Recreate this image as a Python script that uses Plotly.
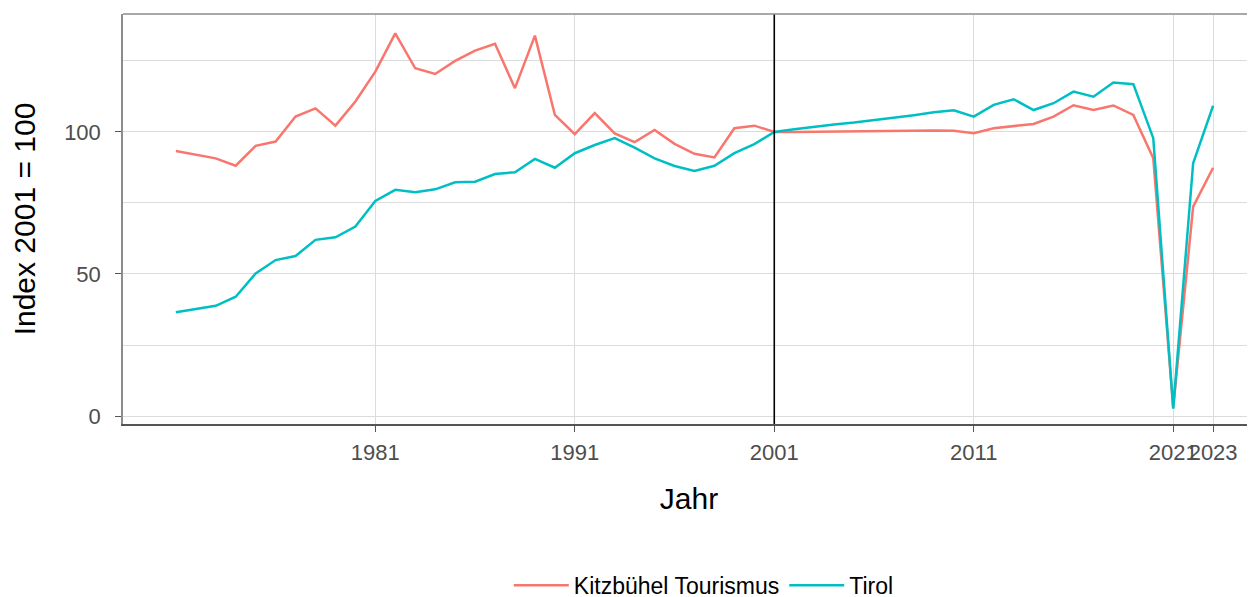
import plotly.graph_objects as go

years = list(range(1971, 2024))

kitzbuehel = [93.3, 92.1, 90.7, 88.1, 95.1, 96.6, 105.4, 108.3, 102.2, 110.7,
              121.2, 134.7, 122.4, 120.4, 125.0, 128.6, 131.0, 115.4, 133.9, 106.0,
              99.2, 106.6, 99.5, 96.4, 100.7, 95.8, 92.3, 91.0, 101.3, 102.2,
              100.0, 100.0, 100.1, 100.1, 100.3, 100.4, 100.4, 100.4, 100.5, 100.4,
              99.5, 101.3, 102.1, 102.8, 105.4, 109.4, 107.7, 109.3, 106.0, 90.7,
              3.0, 73.7, 87.4]

tirol = [36.5, 37.6, 38.8, 42.0, 50.2, 54.9, 56.3, 62.0, 62.9, 66.7,
         75.7, 79.6, 78.8, 79.8, 82.3, 82.5, 85.2, 85.8, 90.5, 87.4,
         92.5, 95.4, 97.8, 94.5, 90.7, 88.0, 86.3, 88.1, 92.5, 95.7,
         100.0, 100.9, 101.8, 102.6, 103.3, 104.1, 105.0, 105.9, 106.9, 107.6,
         105.4, 109.5, 111.5, 107.7, 110.1, 114.2, 112.4, 117.4, 116.8, 97.8,
         2.6, 89.0, 109.2]

x_ticks = [1981, 1991, 2001, 2011, 2021, 2023]
y_ticks = [0, 50, 100]
y_minor = [25, 75, 125]
series_names = ["Kitzbühel Tourismus", "Tirol"]
colors = ["#F8766D", "#00BFC4"]

fig = go.Figure()
for name, vals, col in zip(series_names, [kitzbuehel, tirol], colors):
    fig.add_trace(go.Scatter(x=years, y=vals, mode="lines", name=name,
                             line=dict(color=col, width=2.5)))

fig.add_vline(x=2001, line=dict(color="black", width=1.6))

grid = "#DCDCDC"
FONT = "Liberation Sans, Arial, sans-serif"
fig.update_layout(
    width=1247, height=589,
    margin=dict(l=115, r=0, t=6, b=173),
    plot_bgcolor="white", paper_bgcolor="white",
    font=dict(family=FONT, size=22, color="#4D4D4D"),
    xaxis=dict(
        range=[1968.35, 2025.1], tickmode="array", tickvals=x_ticks,
        ticktext=[str(t) for t in x_ticks], tickangle=0,
        showgrid=True, gridcolor=grid, gridwidth=1,
        zeroline=False, showline=True, linecolor="#555555", linewidth=1.5,
        ticks="outside", ticklen=6, tickcolor="#555555", ticklabelstandoff=2,
        title=dict(text="Jahr", font=dict(size=30, color="black"), standoff=24),
        tickfont=dict(size=22, color="#4D4D4D"),
    ),
    yaxis=dict(
        range=[-2.8, 141.5], tickmode="array", tickvals=y_ticks,
        showgrid=True, gridcolor=grid, gridwidth=1,
        minor=dict(tickmode="array", tickvals=y_minor, showgrid=True,
                   gridcolor=grid, gridwidth=1),
        zeroline=False, showline=True, linecolor="#8C8C8C", linewidth=1.5,
        ticks="outside", ticklen=6, tickcolor="#555555", ticklabelstandoff=10,
        title=dict(text="Index 2001 = 100", font=dict(size=30, color="black"), standoff=26),
        tickfont=dict(size=22, color="#4D4D4D"),
    ),
    legend=dict(orientation="h", xref="container", yref="container",
                x=0.558, xanchor="center", y=0.02, yanchor="middle",
                font=dict(size=23, color="black"), traceorder="normal",
                itemwidth=55),
    showlegend=True,
)

fig.add_shape(type="line", xref="paper", yref="paper", x0=0, x1=1, y0=1, y1=1,
              line=dict(color="#8C8C8C", width=1.5))

fig.write_html("out.html")
